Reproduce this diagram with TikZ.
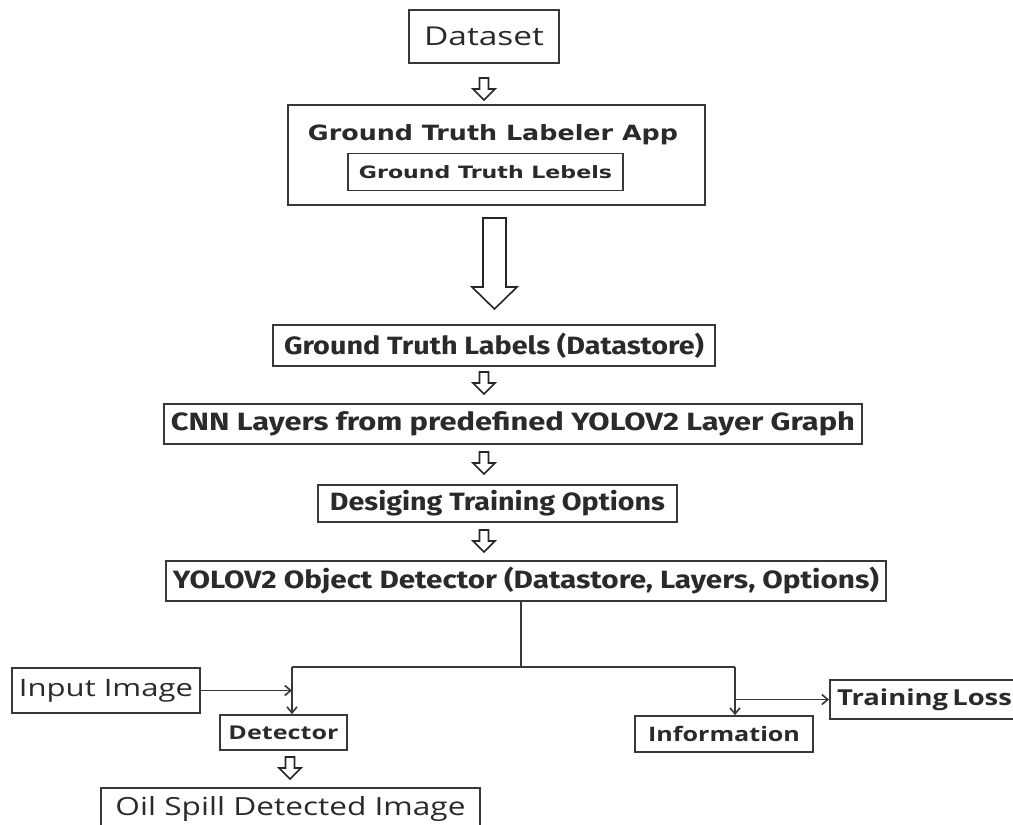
\documentclass[tikz,border=0pt]{standalone}
\usepackage{fontspec}
\usepackage{graphicx}
\setmainfont{Open Sans}
\newfontfamily\gtfont{DejaVu Sans}
\newfontfamily\dinfont{Fira Sans}
\usetikzlibrary{arrows.meta,calc}
\definecolor{linec}{HTML}{383838}
\definecolor{textc}{HTML}{2A2A2A}
\newcommand\fw[2]{\resizebox{#1pt}{\height}{#2}}
\begin{document}
\begin{tikzpicture}[x=1pt,y=-1pt,
  box/.style={draw=linec,line width=1.8pt,inner sep=0pt,text=textc,fill=white},
  conn/.style={draw=linec,line width=1.8pt},
  arr/.style={conn,-{Straight Barb[length=6pt,width=10pt,line width=1.6pt]}},
  hollow/.style={draw=black!85,line width=1.6pt,fill=white,line join=miter},
  smallarr/.pic={\path[hollow] (-4.5,0) -- (-4.5,11) -- (-11,11) -- (0,22) -- (11,11) -- (4.5,11) -- (4.5,0) -- cycle;}]
\useasboundingbox[fill=white] (0,0) rectangle (1013,825);

% top part
\node[box,minimum width=150pt,minimum height=53pt] (dataset) at (484,36.5)
  {\fontsize{26}{30}\selectfont\fw{120}{Dataset}};
\pic at (484,78) {smallarr};
\node[box,minimum width=417pt,minimum height=100pt] (app) at (496.5,155) {};
\node[text=textc,inner sep=0pt,anchor=base] (apptitle) at (493,140)
  {\gtfont\bfseries\fontsize{21}{24}\selectfont\fw{370}{Ground Truth Labeler App}};
\node[box,minimum width=275pt,minimum height=37pt] (inner) at (485.5,172)
  {\gtfont\bfseries\fontsize{17}{20}\selectfont\fw{253}{Ground Truth Lebels}};

% big hollow arrow
\path[hollow] (483,218) -- (483,287) -- (472,287) -- (494.5,309) -- (517,287) -- (506,287) -- (506,218) -- cycle;

% middle chain
\node[box,minimum width=442pt,minimum height=41pt] (gtlds) at (494,345.5)
  {\dinfont\bfseries\fontsize{25}{29}\selectfont\fw{420}{Ground Truth Labels (Datastore)}};
\pic at (484,372) {smallarr};
\node[box,minimum width=698pt,minimum height=40pt] (cnn) at (513,424)
  {\dinfont\bfseries\fontsize{25}{29}\selectfont\fw{684}{CNN Layers from predefined YOLOV2 Layer Graph}};
\pic at (484,452) {smallarr};
\node[box,minimum width=359pt,minimum height=37pt] (dto) at (497.5,503.5)
  {\dinfont\bfseries\fontsize{25}{29}\selectfont\fw{335}{Desiging Training Options}};
\pic at (484,530) {smallarr};
\node[box,minimum width=720pt,minimum height=40pt] (yolo) at (526,581)
  {\dinfont\bfseries\fontsize{25}{29}\selectfont\fw{706}{YOLOV2 Object Detector (Datastore, Layers, Options)}};

% bottom part
\node[box,minimum width=188pt,minimum height=45pt] (input) at (106,690.5)
  {\fontsize{24}{28}\selectfont\fw{174}{Input Image}};
\node[box,minimum width=127pt,minimum height=35pt] (det) at (283.5,732.5)
  {\bfseries\fontsize{19}{23}\selectfont\fw{110}{Detector}};
\pic at (290,757) {smallarr};
\node[box,minimum width=379pt,minimum height=42pt] (oil) at (290.5,809)
  {\fontsize{25}{29}\selectfont\fw{350}{Oil Spill Detected Image}};
\node[box,minimum width=178pt,minimum height=36pt] (info) at (724,734)
  {\bfseries\fontsize{20}{24}\selectfont\fw{152}{Information}};
\node[box,minimum width=190pt,minimum height=39pt,text width=184pt,align=left] (tloss) at (925,699.5)
  {\bfseries\fontsize{22}{26}\selectfont\hspace*{4pt}\fw{175}{Training Loss}};

% connectors
\coordinate (j) at (521,667);
\coordinate (jl) at (292,667);
\coordinate (jr) at (735,667);
\draw[conn] (yolo.south -| j) -- (j);
\draw[conn] (jl) -- (jr);
\draw[arr] (jl) -- (jl |- det.north);
\draw[arr] (jr) -- (jr |- info.north);
\draw[arr] (input.east) -- (input.east -| jl);
\draw[arr] (jr |- tloss.west) -- (tloss.west);
\end{tikzpicture}
\end{document}
